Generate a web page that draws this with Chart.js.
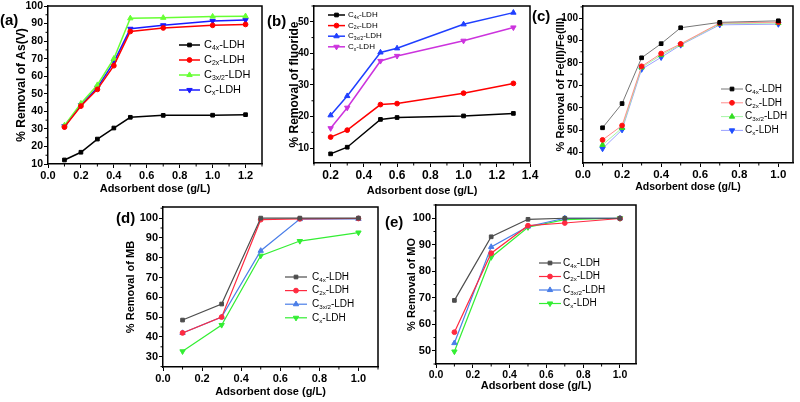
<!DOCTYPE html>
<html><head><meta charset="utf-8">
<script src="https://cdn.jsdelivr.net/npm/chart.js@4.4.1/dist/chart.umd.min.js"></script>
<style>
html,body{margin:0;padding:0;background:#fff;}
#wrap{position:relative;width:800px;height:402px;overflow:hidden;font-family:"Liberation Sans",Arial,sans-serif;}
canvas{position:absolute;left:0;top:0;}
.plabel{position:absolute;font-weight:bold;font-size:15px;line-height:15px;color:#000;}
</style></head>
<body><div id="wrap">
<canvas id="ca" width="800" height="402"></canvas>
<canvas id="cb" width="800" height="402"></canvas>
<canvas id="cc" width="800" height="402"></canvas>
<canvas id="cd" width="800" height="402"></canvas>
<canvas id="ce" width="800" height="402"></canvas>
<div class="plabel" style="left:0px;top:12px">(a)</div>
<div class="plabel" style="left:267px;top:13px">(b)</div>
<div class="plabel" style="left:532px;top:8px">(c)</div>
<div class="plabel" style="left:116px;top:210px">(d)</div>
<div class="plabel" style="left:385px;top:214px">(e)</div>
</div>
<script>
// ---------- data ----------
const seriesLabels = [['C','4x','-LDH'],['C','2x','-LDH'],['C','3x/2','-LDH'],['C','x','-LDH']];

// (a) As(V)
const doseA = [0.1,0.2,0.3,0.4,0.5,0.7,1.0,1.2];
const asC4x  = [12.3,16.7,24.2,30.5,36.6,37.7,37.8,38.1];
const asC2x  = [31.0,43.0,52.5,66.0,85.5,87.5,89.0,89.5];
const asC3x2 = [32.0,44.5,55.0,70.0,93.0,93.3,94.0,94.2];
const asCx   = [31.5,43.5,53.5,68.0,87.0,89.0,91.5,92.0];
const xTicksA = [0.0,0.2,0.4,0.6,0.8,1.0,1.2];
const yTicksA = [10,20,30,40,50,60,70,80,90,100];

// (b) fluoride
const doseB = [0.2,0.3,0.5,0.6,1.0,1.3];
const fC4x  = [8.2,10.3,19.1,19.7,20.2,21.0];
const fC2x  = [13.5,15.7,23.8,24.1,27.4,30.5];
const fC3x2 = [20.4,26.5,40.3,41.6,49.2,52.9];
const fCx   = [16.3,22.8,37.6,39.2,44.0,48.2];
const xTicksB = [0.2,0.4,0.6,0.8,1.0,1.2,1.4];
const yTicksB = [10,20,30,40,50];

// (c) Fe(II)/Fe(III)
const doseC = [0.1,0.2,0.3,0.4,0.5,0.7,1.0];
const feC4x  = [51.1,61.9,82.3,88.6,95.7,98.1,98.8];
const feC2x  = [45.7,52.1,78.5,84.2,88.5,97.8,98.2];
const feC3x2 = [43.5,51.0,78.0,83.5,88.2,97.5,97.8];
const feCx   = [41.8,50.2,77.2,82.5,88.0,97.0,97.3];
const xTicksC = [0.0,0.2,0.4,0.6,0.8,1.0];
const yTicksC = [40,50,60,70,80,90,100];

// (d) MB
const doseD = [0.1,0.3,0.5,0.7,1.0];
const mbC4x  = [48.5,56.6,100.0,100.0,100.0];
const mbC2x  = [42.0,50.0,99.2,99.6,99.8];
const mbC3x2 = [42.0,50.0,83.5,99.5,99.6];
const mbCx   = [32.7,46.0,81.0,88.4,92.7];
const xTicksD = [0.0,0.2,0.4,0.6,0.8,1.0];
const yTicksD = [30,40,50,60,70,80,90,100];

// (e) MO
const doseE = [0.1,0.3,0.5,0.7,1.0];
const moC4x  = [69.0,93.0,99.6,100.0,100.0];
const moC2x  = [57.0,86.8,97.2,98.2,99.9];
const moC3x2 = [52.9,89.2,96.9,100.0,100.0];
const moCx   = [49.7,85.3,96.6,99.5,100.0];
const xTicksE = [0.0,0.2,0.4,0.6,0.8,1.0];
const yTicksE = [50,60,70,80,90,100];

// ---------- plugins ----------
const FONT = '"Liberation Sans", Arial, sans-serif';

const frameAndLegend = {
  id: 'frameAndLegend',
  afterDraw(chart, args, o) {
    const ctx = chart.ctx, a = chart.chartArea;
    ctx.save();
    ctx.strokeStyle = '#000'; ctx.lineWidth = 1.5;
    ctx.beginPath();
    ctx.moveTo(a.left, a.top); ctx.lineTo(a.right, a.top); ctx.lineTo(a.right, a.bottom);
    ctx.stroke();
    // minor ticks
    ctx.lineWidth = 1;
    ['x','y'].forEach(id => {
      const s = chart.scales[id];
      const t = s.ticks.map(k => k.value);
      if (t.length < 2) return;
      const step = t[1] - t[0];
      for (let v = t[0] - step/2; v <= s.max + 1e-9; v += step) {
        if (v < s.min - 1e-9) continue;
        const p = s.getPixelForValue(v);
        ctx.beginPath();
        if (id === 'x') { ctx.moveTo(p, a.bottom); ctx.lineTo(p, a.bottom + 2.5); }
        else { ctx.moveTo(a.left, p); ctx.lineTo(a.left - 2.5, p); }
        ctx.stroke();
      }
    });
    // legend with subscripts
    const L = o.legend;
    if (L) {
      chart.data.datasets.forEach((ds, i) => {
        const y = L.y + i * L.dy;
        ctx.strokeStyle = ds.borderColor; ctx.lineWidth = ds.borderWidth;
        ctx.beginPath(); ctx.moveTo(L.x, y); ctx.lineTo(L.x + L.len, y); ctx.stroke();
        ctx.fillStyle = ds.pointBackgroundColor; ctx.strokeStyle = ds.pointBorderColor; ctx.lineWidth = 1;
        Chart.helpers.drawPoint(ctx, {pointStyle: ds.pointStyle, rotation: ds.pointRotation || 0, radius: ds.pointRadius, borderWidth: 1}, L.x + L.len/2, y);
        const parts = ds.parts;
        let tx = L.x + L.len + L.gap;
        ctx.fillStyle = '#000'; ctx.textBaseline = 'middle'; ctx.textAlign = 'left';
        ctx.font = L.size + 'px ' + FONT;
        ctx.fillText(parts[0], tx, y); tx += ctx.measureText(parts[0]).width;
        ctx.font = (L.size * 0.62) + 'px ' + FONT;
        ctx.fillText(parts[1], tx, y + L.size * 0.3); tx += ctx.measureText(parts[1]).width;
        ctx.font = L.size + 'px ' + FONT;
        ctx.fillText(parts[2], tx, y);
      });
    }
    ctx.restore();
  }
};

const RADIUS = {rect: 2.6, circle: 2.4, triangle: 3.1};

function ds(parts, xs, ys, lineColor, markColor, style, rot, lw) {
  return {
    label: parts.join(''), parts: parts,
    data: xs.map((x, i) => ({x: x, y: ys[i]})),
    borderColor: lineColor, borderWidth: lw, backgroundColor: markColor,
    pointBackgroundColor: markColor, pointBorderColor: markColor, pointBorderWidth: 1,
    pointStyle: style, pointRotation: rot, rotation: rot, pointRadius: RADIUS[style],
    tension: 0, clip: false
  };
}

function makePanel(id, p) {
  const pad = {left: p.area.l - p.yW, top: p.area.t, right: 800 - p.area.r, bottom: 402 - p.area.b - p.xH};
  new Chart(document.getElementById(id), {
    type: 'line',
    data: {datasets: p.datasets},
    options: {
      responsive: false, animation: false, devicePixelRatio: 1,
      layout: {padding: pad},
      plugins: {legend: {display: false}, tooltip: {enabled: false}, frameAndLegend: {legend: p.legend}},
      scales: {
        x: {
          type: 'linear', min: p.xMin, max: p.xMax,
          afterBuildTicks: s => { s.ticks = p.xTicks.map(v => ({value: v})); },
          afterFit: s => { s.height = p.xH; s.paddingLeft = 0; s.paddingRight = 0; },
          ticks: {callback: v => Number(v).toFixed(1), font: {family: FONT, size: p.xTickSize, weight: 'bold'}, color: '#000', padding: 1, autoSkip: false, maxRotation: 0},
          grid: {drawOnChartArea: false, drawTicks: true, tickLength: 4, color: '#000', lineWidth: 1},
          border: {display: true, color: '#000', width: 1.5},
          title: {display: true, text: 'Adsorbent dose (g/L)', font: {family: FONT, size: p.xTitleSize, weight: 'bold'}, color: '#000', padding: {top: 0, bottom: 0}}
        },
        y: {
          type: 'linear', min: p.yMin, max: p.yMax,
          afterBuildTicks: s => { s.ticks = p.yTicks.map(v => ({value: v})); },
          afterFit: s => { s.width = p.yW; s.paddingTop = 0; s.paddingBottom = 0; },
          ticks: {callback: v => String(v), font: {family: FONT, size: p.yTickSize, weight: 'bold'}, color: '#000', padding: 1, autoSkip: false},
          grid: {drawOnChartArea: false, drawTicks: true, tickLength: 4, color: '#000', lineWidth: 1},
          border: {display: true, color: '#000', width: 1.5},
          title: {display: true, text: p.yTitle, font: {family: FONT, size: p.yTitleSize, weight: 'bold'}, color: '#000', padding: {top: 0, bottom: 0}}
        }
      }
    },
    plugins: [frameAndLegend]
  });
}

// (a)
makePanel('ca', {
  area: {l: 48, t: 6, r: 262, b: 164}, yW: 34, xH: 32,
  xMin: 0, xMax: 1.3, yMin: 10, yMax: 100, xTicks: xTicksA, yTicks: yTicksA,
  xTickSize: 11, yTickSize: 10.5, xTitleSize: 11, yTitleSize: 12, yTitle: '% Removal of As(V)',
  legend: {x: 179, y: 45, dy: 15, len: 21, gap: 4, size: 11},
  datasets: [
    ds(seriesLabels[0], doseA, asC4x, '#000000', '#000000', 'rect', 0, 1.5),
    ds(seriesLabels[1], doseA, asC2x, '#ff0000', '#ff0000', 'circle', 0, 1.5),
    ds(seriesLabels[2], doseA, asC3x2, '#66ff33', '#66ff33', 'triangle', 0, 1.5),
    ds(seriesLabels[3], doseA, asCx, '#1a1aff', '#1a1aff', 'triangle', 180, 1.5)
  ]
});

// (b)
makePanel('cb', {
  area: {l: 314, t: 6, r: 530, b: 163}, yW: 27, xH: 35,
  xMin: 0.1, xMax: 1.4, yMin: 5.3, yMax: 55, xTicks: xTicksB, yTicks: yTicksB,
  xTickSize: 12, yTickSize: 10, xTitleSize: 11, yTitleSize: 12, yTitle: '% Removal of fluoride',
  legend: {x: 328, y: 15, dy: 10.6, len: 17, gap: 3, size: 8},
  datasets: [
    ds(seriesLabels[0], doseB, fC4x, '#000000', '#000000', 'rect', 0, 1.5),
    ds(seriesLabels[1], doseB, fC2x, '#ff0000', '#ff0000', 'circle', 0, 1.5),
    ds(seriesLabels[2], doseB, fC3x2, '#1f3fff', '#1f3fff', 'triangle', 0, 1.5),
    ds(seriesLabels[3], doseB, fCx, '#cc33dd', '#cc33dd', 'triangle', 180, 1.5)
  ]
});

// (c)
makePanel('cc', {
  area: {l: 583, t: 6, r: 793, b: 163}, yW: 29, xH: 30,
  xMin: 0, xMax: 1.075, yMin: 35.4, yMax: 105.4, xTicks: xTicksC, yTicks: yTicksC,
  xTickSize: 11.5, yTickSize: 10, xTitleSize: 10.5, yTitleSize: 11, yTitle: '% Removal of Fe(II)/Fe(III)',
  legend: {x: 721, y: 89, dy: 13.8, len: 22, gap: 2, size: 10},
  datasets: [
    ds(seriesLabels[0], doseC, feC4x, '#777777', '#000000', 'rect', 0, 1),
    ds(seriesLabels[1], doseC, feC2x, '#ff8c8c', '#ff1010', 'circle', 0, 1),
    ds(seriesLabels[2], doseC, feC3x2, '#a6f5a6', '#33dd22', 'triangle', 0, 1),
    ds(seriesLabels[3], doseC, feCx, '#9aa0ff', '#1f4fff', 'triangle', 180, 1)
  ]
});

// (d)
makePanel('cd', {
  area: {l: 163, t: 207, r: 378, b: 367}, yW: 39, xH: 32,
  xMin: 0, xMax: 1.1, yMin: 24.8, yMax: 105.6, xTicks: xTicksD, yTicks: yTicksD,
  xTickSize: 11, yTickSize: 11, xTitleSize: 11, yTitleSize: 11, yTitle: '% Removal of MB',
  legend: {x: 285, y: 277, dy: 13.6, len: 22, gap: 5, size: 10},
  datasets: [
    ds(seriesLabels[0], doseD, mbC4x, '#4d4d4d', '#4d4d4d', 'rect', 0, 1.2),
    ds(seriesLabels[1], doseD, mbC2x, '#ff2a40', '#ff2a40', 'circle', 0, 1.2),
    ds(seriesLabels[2], doseD, mbC3x2, '#4a7ee8', '#4a7ee8', 'triangle', 0, 1.2),
    ds(seriesLabels[3], doseD, mbCx, '#33ee33', '#33ee33', 'triangle', 180, 1.2)
  ]
});

// (e)
makePanel('ce', {
  area: {l: 436, t: 205, r: 636, b: 364}, yW: 31, xH: 29,
  xMin: 0, xMax: 1.087, yMin: 45, yMax: 105, xTicks: xTicksE, yTicks: yTicksE,
  xTickSize: 10.5, yTickSize: 11, xTitleSize: 11, yTitleSize: 11, yTitle: '% Removal of MO',
  legend: {x: 539, y: 263, dy: 13.5, len: 22, gap: 2, size: 10},
  datasets: [
    ds(seriesLabels[0], doseE, moC4x, '#4d4d4d', '#4d4d4d', 'rect', 0, 1.2),
    ds(seriesLabels[1], doseE, moC2x, '#ff2a40', '#ff2a40', 'circle', 0, 1.2),
    ds(seriesLabels[2], doseE, moC3x2, '#4a7ee8', '#4a7ee8', 'triangle', 0, 1.2),
    ds(seriesLabels[3], doseE, moCx, '#33ee33', '#33ee33', 'triangle', 180, 1.2)
  ]
});
</script>
</body></html>
